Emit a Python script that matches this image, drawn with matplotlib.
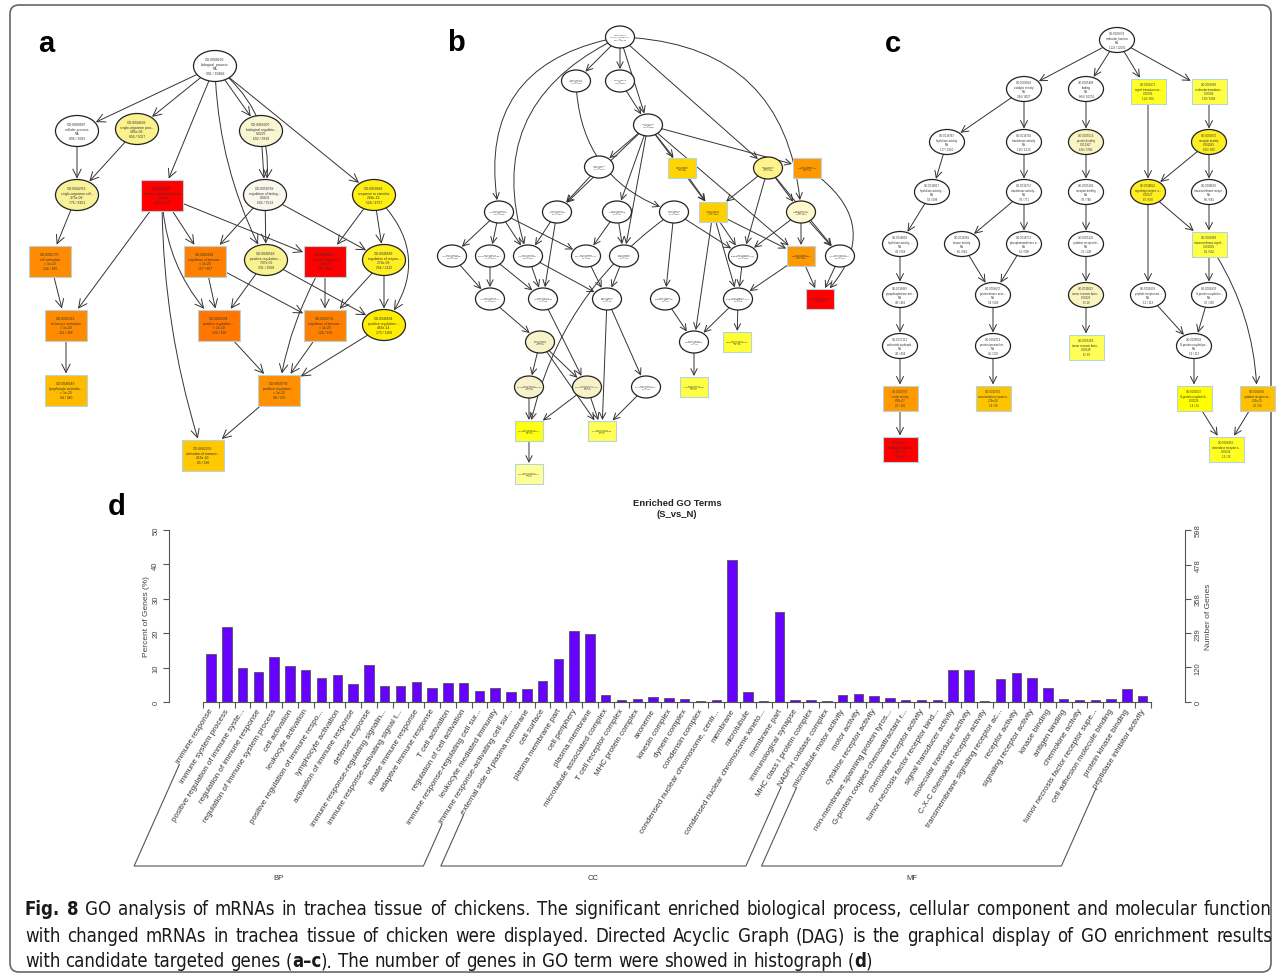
import numpy as np
import matplotlib
matplotlib.use('Agg')
import matplotlib.pyplot as plt
from matplotlib import font_manager as fm
from matplotlib.patches import Ellipse, Rectangle, FancyArrowPatch, FancyBboxPatch

W, H = 1281, 979

# ---------------- panel d data ----------------
bp_terms = ['immune response', 'immune system process', 'positive regulation of immune syste...',
	'regulation of immune response', 'regulation of immune system process', 'cell activation',
	'leukocyte activation', 'positive regulation of immune respo...', 'lymphocyte activation',
	'activation of immune response', 'defense response', 'immune response-regulating signalin...',
	'immune response-activating signal t...', 'innate immune response', 'adaptive immune response',
	'T cell activation', 'regulation of cell activation', 'immune response-regulating cell sur...',
	'leukocyte mediated immunity', 'immune response-activating cell sur...']
cc_terms = ['external side of plasma membrane', 'cell surface', 'plasma membrane part', 'cell periphery',
	'plasma membrane', 'microtubule associated complex', 'T cell receptor complex', 'MHC protein complex',
	'axoneme', 'kinesin complex', 'dynein complex', 'condensin complex',
	'condensed nuclear chromosome, centr...', 'membrane', 'microtubule',
	'condensed nuclear chromosome kineto...', 'membrane part', 'immunological synapse',
	'MHC class I protein complex', 'NADPH oxidase complex']
mf_terms = ['microtubule motor activity', 'motor activity', 'cytokine receptor activity',
	'non-membrane spanning protein tyros...', 'G-protein coupled chemoattractant r...',
	'chemokine receptor activity', 'tumor necrosis factor receptor bind...', 'signal transducer activity',
	'molecular transducer activity', 'C-X-C chemokine receptor activity',
	'transmembrane signaling receptor ac...', 'receptor activity', 'signaling receptor activity',
	'kinase binding', 'antigen binding', 'chemokine activity', 'tumor necrosis factor receptor supe...',
	'cell adhesion molecule binding', 'protein kinase binding', 'peptidase inhibitor activity']
bp_pct = [14.0, 21.8, 9.8, 8.8, 13.2, 10.4, 9.4, 7.0, 7.8, 5.3, 10.8, 4.65, 4.6, 5.7, 4.2, 5.6, 5.6, 3.1, 4.0, 3.0]
cc_pct = [3.8, 6.2, 12.6, 20.7, 19.9, 2.1, 0.7, 0.9, 1.5, 1.2, 0.8, 0.3, 0.5, 41.2, 2.8, 0.4, 26.3, 0.7, 0.7, 0.4]
mf_pct = [2.1, 2.4, 1.6, 1.1, 0.7, 0.7, 0.6, 9.4, 9.4, 0.4, 6.7, 8.5, 7.1, 4.2, 0.9, 0.6, 0.7, 0.9, 3.7, 1.6]
pct_ticks = [0, 10, 20, 30, 40, 50]
gene_ticks = [0, 120, 239, 358, 478, 598]

# ---------------- DAG data: (x, y, shape, fill, text) ----------------
a_nodes = [
	(215, 67, 'e', 'white', 'GO:0008150\nbiological_process\nNA\n991 / 10884'),
	(77, 132, 'e', 'white', 'GO:0009987\ncellular process\nNA\n896 / 9683'),
	(137, 130, 'e', '#FAF28C', 'GO:0044699\nsingle-organism proc...\n3.85e-08\n856 / 9027'),
	(261, 132, 'e', '#FAF6D2', 'GO:0065007\nbiological regulatio...\n0.0225\n602 / 5818'),
	(77, 196, 'e', '#FAF29A', 'GO:0044763\nsingle-organism cell...\n3.75e-08\n776 / 8101'),
	(162, 196, 'b', '#FF0000', 'GO:0002376\nimmune system process\n< 1e-20\n265 / 1170'),
	(265, 196, 'e', '#FAF8EC', 'GO:0050789\nregulation of biolog...\n0.0402\n602 / 5513'),
	(374, 196, 'e', '#FFEE11', 'GO:0050896\nresponse to stimulus\n2.68e-13\n524 / 4757'),
	(50, 262, 'b', '#FF8C00', 'GO:0001775\ncell activation\n< 1e-20\n124 / 460'),
	(205, 262, 'b', '#FF8000', 'GO:0002682\nregulation of immune...\n< 1e-20\n157 / 667'),
	(266, 261, 'e', '#F9F290', 'GO:0048518\npositive regulation ...\n7.07e-06\n331 / 2568'),
	(325, 262, 'b', '#FF0000', 'GO:0006955\nimmune response\n< 1e-20\n167 / 647'),
	(384, 261, 'e', '#FFEE22', 'GO:0048583\nregulation of respon...\n2.74e-09\n256 / 2132'),
	(66, 326, 'b', '#FF8C00', 'GO:0045321\nleukocyte activation\n< 1e-20\n111 / 366'),
	(219, 326, 'b', '#FF7700', 'GO:0002684\npositive regulation ...\n< 1e-20\n120 / 428'),
	(325, 326, 'b', '#FF8000', 'GO:0050776\nregulation of immune...\n< 1e-20\n126 / 529'),
	(384, 326, 'e', '#FFEE00', 'GO:0048584\npositive regulation ...\n4.65e-14\n170 / 1369'),
	(66, 391, 'b', '#FFBB00', 'GO:0046649\nlymphocyte activatio...\n< 1e-20\n94 / 340'),
	(279, 391, 'b', '#FF9000', 'GO:0050778\npositive regulation ...\n< 1e-20\n98 / 375'),
	(203, 456, 'b', '#FFC800', 'GO:0002253\nactivation of immune...\n4.15e-20\n85 / 186'),
]
a_edges = [(0, 1), (0, 2), (0, 5), (0, 3), (0, 7), (0, 6, -0.3), (0, 10, 0.12), (1, 4), (2, 4), (3, 6),
	(4, 8), (5, 13), (5, 9), (5, 11), (5, 14, 0.2), (5, 19, 0.08), (6, 9), (6, 10), (6, 12), (7, 11),
	(7, 12), (7, 16, -0.45), (8, 13), (9, 14), (9, 15), (10, 14), (10, 16), (11, 15), (11, 18, 0.1),
	(12, 15), (12, 16), (13, 17), (14, 18), (15, 18), (16, 18), (18, 19)]

b_nodes = [
	(620, 38, 'e', 'white', 'GO:0005575\ncellular_component\nNA\n987 / 10348'),
	(576, 82, 'e', 'white', 'GO:0044422\norganelle part\nNA\n344 / 4136'),
	(620, 82, 'e', 'white', 'GO:0005623\ncell\nNA\n768 / 9012'),
	(648, 126, 'e', 'white', 'GO:0044464\ncell part\nNA\n765 / 8998'),
	(599, 168, 'e', 'white', 'GO:0043226\norganelle\nNA\n545 / 6744'),
	(682, 169, 'b', '#FFD400', 'GO:0009986\ncell surface\n1.8e-05\n74 / 388'),
	(768, 169, 'e', '#FFF38A', 'GO:0016020\nmembrane\n2.5e-04\n492 / 4951'),
	(807, 169, 'b', '#FF9900', 'GO:0098552\nside of membrane\n2.6e-09\n35 / 178'),
	(499, 213, 'e', 'white', 'GO:0043229\nintracellular organ...\nNA\n510 / 6395'),
	(557, 213, 'e', 'white', 'GO:0044424\nintracellular part\nNA\n630 / 7901'),
	(617, 213, 'e', 'white', 'GO:0044430\ncytoskeletal part\nNA\n60 / 513'),
	(674, 213, 'e', 'white', 'GO:0005622\nintracellular\nNA\n641 / 8051'),
	(713, 213, 'b', '#FFD000', 'GO:0071944\ncell periphery\n1.7e-07\n248 / 1985'),
	(801, 213, 'e', '#FFF8CC', 'GO:0044425\nmembrane part\n0.0018\n313 / 3049'),
	(452, 257, 'e', 'white', 'GO:0043231\nintracellular membr...\nNA\n380 / 5165'),
	(490, 257, 'e', 'white', 'GO:0043228\nnon-membrane-bound...\nNA\n173 / 2009'),
	(528, 257, 'e', 'white', 'GO:0044446\nintracellular organ...\nNA\n301 / 3837'),
	(586, 257, 'e', 'white', 'GO:0015630\nmicrotubule cytoskel...\nNA\n41 / 348'),
	(624, 257, 'e', 'white', 'GO:0005856\ncytoskeleton\nNA\n82 / 773'),
	(743, 257, 'e', 'white', 'GO:0044459\nplasma membrane part\nNA\n132 / 1110'),
	(801, 257, 'b', '#FF9A00', 'GO:0005886\nplasma membrane\n1.5e-08\n238 / 1880'),
	(840, 257, 'e', 'white', 'GO:0031224\nintrinsic component...\nNA\n201 / 2101'),
	(490, 300, 'e', 'white', 'GO:0043232\nintracellular non-m...\nNA\n173 / 2009'),
	(543, 300, 'e', 'white', 'GO:0044427\nchromosomal part\nNA\n44 / 448'),
	(607, 300, 'e', 'white', 'GO:0005874\nmicrotubule\nNA\n35 / 188'),
	(665, 300, 'e', 'white', 'GO:0009897\nexternal side of pl...\nNA\n31 / 80'),
	(738, 300, 'e', 'white', 'GO:0098797\nplasma membrane prot...\nNA\n28 / 216'),
	(820, 300, 'b', '#FF0000', 'GO:0005887\nintegral component ...\n< 1e-20\n31 / 80'),
	(540, 343, 'e', '#F8F2C8', 'GO:0005694\nchromosome\n0.0054\n49 / 511'),
	(694, 343, 'e', 'white', 'GO:0043235\nreceptor complex\nNA\n17 / 99'),
	(737, 343, 'b', '#FFFF33', 'GO:0042611\nMHC protein complex\n0.00018\n11 / 21'),
	(529, 388, 'e', '#F8F2C8', 'GO:0000793\ncondensed chromosome\n0.0056\n19 / 120'),
	(587, 388, 'e', '#F8F2C8', 'GO:0000775\nchromosome, centrom...\n0.0098\n15 / 96'),
	(646, 388, 'e', 'white', 'GO:0005875\nmicrotubule associa...\nNA\n26 / 132'),
	(694, 388, 'b', '#FFFF44', 'GO:0042101\nT cell receptor comp...\n0.00041\n8 / 21'),
	(529, 432, 'b', '#FFFF11', 'GO:0000794\ncondensed nuclear c...\n0.0012\n11 / 38'),
	(602, 432, 'b', '#FFFF55', 'GO:0000796\ncondensin complex\n0.0021\n6 / 11'),
	(529, 475, 'b', '#FFFF99', 'GO:0000780\ncondensed nuclear c...\n0.0097\n7 / 29'),
]
b_edges = [(0, 1), (0, 2), (0, 3), (0, 8, 0.5), (0, 16, 0.45), (0, 6), (0, 13, -0.45), (1, 11, 0.35),
	(2, 3), (3, 4), (3, 5), (3, 9), (3, 10), (3, 18), (3, 12), (3, 7), (3, 20), (4, 9), (5, 12),
	(6, 12), (6, 19), (6, 13), (6, 21), (7, 27, -0.6), (8, 14), (8, 15), (8, 16), (8, 17), (9, 16),
	(9, 23), (10, 17), (10, 18), (11, 25), (11, 19), (11, 35, 0.2), (12, 19), (12, 26), (12, 29),
	(12, 20), (13, 19), (13, 20), (13, 21), (14, 22), (15, 22), (15, 23), (16, 23), (16, 24),
	(17, 24), (18, 24), (19, 26), (20, 26), (20, 27), (21, 27), (22, 28), (23, 32), (24, 36),
	(24, 33), (25, 29), (26, 29), (26, 30), (28, 31), (28, 32), (28, 36), (29, 34), (31, 35),
	(32, 35), (32, 36), (33, 36), (35, 37)]

c_nodes = [
	(1117, 41, 'e', 'white', 'GO:0003674\nmolecular_function\nNA\n1123 / 12091'),
	(1024, 90, 'e', 'white', 'GO:0003824\ncatalytic activity\nNA\n344 / 4027'),
	(1086, 90, 'e', 'white', 'GO:0005488\nbinding\nNA\n864 / 10274'),
	(1148, 92, 'b', '#FFFF22', 'GO:0004871\nsignal transducer ac...\n0.00093\n114 / 864'),
	(1209, 92, 'b', '#FFFF44', 'GO:0060089\nmolecular transducer...\n0.00093\n120 / 1066'),
	(947, 143, 'e', 'white', 'GO:0016787\nhydrolase activity\nNA\n177 / 1950'),
	(1024, 143, 'e', 'white', 'GO:0016740\ntransferase activity\nNA\n125 / 1513'),
	(1086, 143, 'e', '#FAF5C0', 'GO:0005515\nprotein binding\n0.011367\n610 / 5780'),
	(1209, 143, 'e', '#FFEE22', 'GO:0004872\nreceptor activity\n0.001045\n106 / 809'),
	(932, 193, 'e', 'white', 'GO:0016817\nhydrolase activity, ...\nNA\n55 / 588'),
	(1024, 193, 'e', 'white', 'GO:0016772\ntransferase activity...\nNA\n78 / 771'),
	(1086, 193, 'e', 'white', 'GO:0005102\nreceptor binding\nNA\n78 / 780'),
	(1148, 193, 'e', '#FFEE22', 'GO:0038023\nsignaling receptor a...\n0.00027\n87 / 678'),
	(1209, 193, 'e', 'white', 'GO:0099600\ntransmembrane recept...\nNA\n86 / 681'),
	(900, 245, 'e', 'white', 'GO:0016818\nhydrolase activity, ...\nNA\n43 / 509'),
	(962, 245, 'e', 'white', 'GO:0016301\nkinase activity\nNA\n66 / 664'),
	(1024, 245, 'e', 'white', 'GO:0016773\nphosphotransferase a...\nNA\n62 / 598'),
	(1086, 245, 'e', 'white', 'GO:0005126\ncytokine receptor bi...\nNA\n21 / 145'),
	(1209, 245, 'b', '#FFFF44', 'GO:0004888\ntransmembrane signal...\n0.001025\n81 / 632'),
	(900, 296, 'e', 'white', 'GO:0016462\npyrophosphatase acti...\nNA\n40 / 461'),
	(993, 296, 'e', 'white', 'GO:0004672\nprotein kinase activ...\nNA\n54 / 503'),
	(1086, 296, 'e', '#FAF5C0', 'GO:0032813\ntumor necrosis facto...\n0.00923\n8 / 26'),
	(1148, 296, 'e', 'white', 'GO:0001653\npeptide receptor act...\nNA\n13 / 113'),
	(1209, 296, 'e', 'white', 'GO:0004930\nG-protein coupled re...\nNA\n47 / 390'),
	(900, 347, 'e', 'white', 'GO:0017111\nnucleoside-triphosph...\nNA\n40 / 456'),
	(993, 347, 'e', 'white', 'GO:0004713\nprotein tyrosine kin...\nNA\n26 / 202'),
	(1086, 348, 'b', '#FFFF55', 'GO:0005164\ntumor necrosis facto...\n0.00049\n8 / 19'),
	(1194, 347, 'e', 'white', 'GO:0008528\nG-protein coupled pe...\nNA\n13 / 111'),
	(900, 399, 'b', '#FF9900', 'GO:0003774\nmotor activity\n8.93e-07\n20 / 106'),
	(993, 399, 'b', '#FFC400', 'GO:0004715\nnon-membrane spannin...\n2.79e-06\n14 / 30'),
	(1194, 399, 'b', '#FFFF00', 'GO:0001637\nG-protein coupled ch...\n0.00024\n14 / 24'),
	(1257, 399, 'b', '#FFC000', 'GO:0004896\ncytokine receptor ac...\n2.25e-05\n20 / 58'),
	(900, 450, 'b', '#FF0000', 'GO:0003777\nmicrotubule motor ac...\n3.07e-12\n18 / 54'),
	(1226, 450, 'b', '#FFFF22', 'GO:0004950\nchemokine receptor a...\n0.00024\n13 / 23'),
]
c_edges = [(0, 1), (0, 2), (0, 3), (0, 4), (1, 5), (1, 6), (2, 7), (3, 12), (4, 8), (5, 9), (6, 10),
	(7, 11), (8, 12), (8, 13), (9, 14), (10, 15), (10, 16), (11, 17), (12, 22), (12, 18), (13, 18),
	(14, 19), (15, 20), (16, 20), (17, 21), (18, 23), (18, 31, -0.15), (19, 24), (20, 25), (21, 26),
	(22, 27), (23, 27), (24, 28), (25, 29), (27, 30), (28, 32), (30, 33), (31, 33)]

caption = [
	[[('Fig.', True)], [('8', True)]] + [[(w, False)] for w in
		'GO analysis of mRNAs in trachea tissue of chickens. The significant enriched biological process, cellular component and molecular function'.split()],
	[[(w, False)] for w in
		'with changed mRNAs in trachea tissue of chicken were displayed. Directed Acyclic Graph (DAG) is the graphical display of GO enrichment results'.split()],
	[[(w, False)] for w in 'with candidate targeted genes'.split()]
		+ [[('(', False), ('a\u2013c', True), (').', False)]]
		+ [[(w, False)] for w in 'The number of genes in GO term were showed in histograph'.split()]
		+ [[('(', False), ('d', True), (')', False)]],
]

FONT = ['Liberation Sans', 'DejaVu Sans']

# the caption is set in a condensed face; use one if the machine has it
names = set(f.name for f in fm.fontManager.ttflist)
if 'Liberation Sans Narrow' in names:
	CAP = dict(family='Liberation Sans Narrow')
elif any(f.name == 'DejaVu Sans' and 'Condensed' in f.fname for f in fm.fontManager.ttflist):
	CAP = dict(family='DejaVu Sans', stretch='condensed')
else:
	CAP = dict(family='Lato')


def draw_dag(ax, nodes, edges, ew, eh, bw, bh, fs, head):
	patches = []
	for x, y, kind, fill, label in nodes:
		if kind == 'e':
			p = Ellipse((x, y), ew, eh, facecolor=fill, edgecolor='#222222', lw=0.9, zorder=2)
		else:
			p = Rectangle((x - bw / 2, y - bh / 2), bw, bh, facecolor=fill, edgecolor='#b9d3dc', lw=0.8, zorder=2)
		ax.add_patch(p)
		ax.text(x, y, label, fontsize=fs, ha='center', va='center', linespacing=1.15, color='#333333',
			family=FONT, zorder=3)
		patches.append(p)
	for e in edges:
		i, j = e[0], e[1]
		rad = e[2] if len(e) > 2 else 0.0
		arr = FancyArrowPatch(nodes[i][:2], nodes[j][:2], patchA=patches[i], patchB=patches[j],
			arrowstyle='->,head_length=%g,head_width=%g' % (head, head * 0.5),
			connectionstyle='arc3,rad=%g' % rad, shrinkA=0, shrinkB=1,
			lw=0.7, color='#333333', zorder=1)
		ax.add_patch(arr)


fig = plt.figure(figsize=(W / 100, H / 100), dpi=100)
fig.patch.set_facecolor('white')

ov = fig.add_axes([0, 0, 1, 1])
ov.set_xlim(0, W)
ov.set_ylim(H, 0)
ov.axis('off')

ov.add_patch(FancyBboxPatch((10, 6), W - 20, H - 12, boxstyle='round,pad=0,rounding_size=9',
	facecolor='none', edgecolor='#666666', lw=1.2))

draw_dag(ov, a_nodes, a_edges, 43, 31, 42, 31, 2.4, 6)
draw_dag(ov, b_nodes, b_edges, 29, 22, 28, 20, 1.6, 4.5)
draw_dag(ov, c_nodes, c_edges, 35, 25, 35, 25, 2.0, 5)

for letter, (lx, ly) in zip('abcd', [(46, 44), (456, 43), (893, 44), (117, 507)]):
	ov.text(lx, ly, letter, fontsize=21, fontweight='bold', ha='center', va='center', family=FONT)

# ---------------- panel d ----------------
terms = bp_terms + cc_terms + mf_terms
pct = np.array(bp_pct + cc_pct + mf_pct)
groups = [('BP', 0, len(bp_terms)), ('CC', len(bp_terms), len(cc_terms)), ('MF', len(bp_terms) + len(cc_terms), len(mf_terms))]
x = np.arange(len(terms))
step = 15.79
axcol = '#555555'

ax = fig.add_axes([169 / W, 1 - 703 / H, (1185 - 169) / W, (703 - 531) / H])
ax.patch.set_alpha(0)
ax.bar(x, pct, width=0.6, color='#6600FF', edgecolor='#555555', lw=0.6)
ax.set_xlim(-(211 - 169) / step, (1185 - 211) / step)
ax.set_ylim(0, 50)
ax.set_yticks(pct_ticks)
ax.set_xticks(np.arange(-0.5, len(terms), 1))
ax.set_xticklabels([])
for s in ['top', 'right']:
	ax.spines[s].set_visible(False)
ax.spines['left'].set_bounds(0, 50)
ax.spines['bottom'].set_bounds(-0.5, len(terms) - 0.5)
for s in ['left', 'bottom']:
	ax.spines[s].set_color(axcol)
	ax.spines[s].set_linewidth(0.8)
ax.tick_params(axis='both', color=axcol, width=0.8, length=4, labelsize=5.5, labelcolor='#444444', pad=3)
ax.tick_params(axis='y', labelrotation=90)
for t in ax.get_yticklabels():
	t.set_va('center')
	t.set_family(FONT)

ax2 = ax.twinx()
ax2.set_ylim(0, gene_ticks[-1])
ax2.set_yticks(gene_ticks)
for s in ['top', 'left', 'bottom']:
	ax2.spines[s].set_visible(False)
ax2.spines['right'].set_bounds(0, gene_ticks[-1])
ax2.spines['right'].set_color(axcol)
ax2.spines['right'].set_linewidth(0.8)
ax2.tick_params(axis='y', color=axcol, width=0.8, length=4, labelsize=5.5, labelcolor='#444444', pad=3,
	labelrotation=90)
for t in ax2.get_yticklabels():
	t.set_va('center')
	t.set_family(FONT)

angle = 58
labels = []
for i, term in enumerate(terms):
	t = ax.annotate(term, xy=(i, 0), xytext=(0.6, -5), textcoords='offset points', rotation=angle,
		rotation_mode='anchor', ha='right', va='center', fontsize=5.8, color='#333333', family=FONT,
		annotation_clip=False)
	labels.append(t)

ov.text(677, 509, 'Enriched GO Terms\n(S_vs_N)', fontsize=6.8, fontweight='bold', ha='center',
	va='center', linespacing=1.35, family=FONT, color='#222222')
ov.text(147, 617, 'Percent of Genes (%)', fontsize=6, rotation=90, ha='center', va='center',
	family=FONT, color='#444444')
ov.text(1208, 617, 'Number of Genes', fontsize=6, rotation=90, ha='center', va='center',
	family=FONT, color='#444444')

# group brackets under the rotated labels
fig.canvas.draw()
r = fig.canvas.get_renderer()
ybr = 867
slope = np.tan(np.radians(66))
for name, start, n in groups:
	ends = []
	for k in (start, start + n - 1):
		bb = labels[k].get_window_extent(r)
		sx, sy = bb.x0 + 4, H - bb.y0
		ends.append((sx, sy, sx - (ybr - sy) / slope))
	(sx0, sy0, bx0), (sx1, sy1, bx1) = ends
	ov.plot([sx0, bx0, bx1, sx1], [sy0, ybr, ybr, sy1], color='#555555', lw=0.8)
	ov.text((bx0 + bx1) / 2, ybr + 12, name, fontsize=5.5, ha='center', va='center', family=FONT,
		color='#333333')

# ---------------- caption ----------------
# font size: the two full lines fill the width with only a little stretch
p2 = ov.text(0, 0, 'with changed mRNAs in trachea tissue of chicken were displayed. Directed Acyclic Graph (DAG) is the graphical display of GO enrichment results',
	fontsize=10, **CAP)
cap_fs = 10 * 1215 / p2.get_window_extent(r).width
p2.remove()
sp = ov.text(0, 0, 'x x', fontsize=cap_fs, **CAP)
sp2 = ov.text(0, 0, 'xx', fontsize=cap_fs, **CAP)
space_w = sp.get_window_extent(r).width - sp2.get_window_extent(r).width
sp.remove()
sp2.remove()

x0, x1 = 25, 1272
for li, (words, yl) in enumerate(zip(caption, [910, 937, 962])):
	pieces = []
	widths = []
	for word in words:
		ws = []
		for s, bold in word:
			t = ov.text(0, yl, s, fontsize=cap_fs, fontweight='bold' if bold else 'normal',
				ha='left', va='center', color='#1a1a1a', **CAP)
			ws.append((t, t.get_window_extent(r).width))
		pieces.append(ws)
		widths.append(sum(w for _, w in ws))
	if li < 2:
		gap = (x1 - x0 - sum(widths)) / (len(words) - 1)
	else:
		gap = space_w
	xc = x0
	for ws, wtot in zip(pieces, widths):
		xx = xc
		for t, w in ws:
			t.set_x(xx)
			xx += w
		xc += wtot + gap

fig.savefig('out.png', dpi=100)
